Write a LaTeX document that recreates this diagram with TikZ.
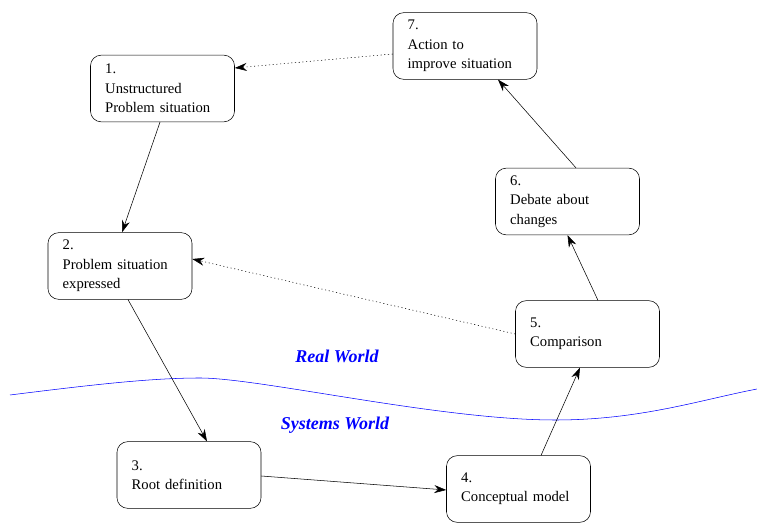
\documentclass[tikz,border=0pt]{standalone}
\usepackage{fontspec}
\setmainfont{Liberation Serif}
\usetikzlibrary{arrows.meta,calc}

\begin{document}
\begin{tikzpicture}[x=0.75pt,y=-0.75pt]
            \tikzstyle{stage}=[draw,rounded corners=8pt,align=left,text width=86pt,inner xsep=11pt,minimum height=50pt,font=\fontsize{11}{14.5}\selectfont];
            \tikzstyle{flow}=[-{Stealth[length=9pt,width=6pt]}];
            \tikzstyle{back}=[flow,dash pattern=on 0.8pt off 2pt];
            \tikzstyle{world}=[text=blue,font=\fontsize{13.5}{15}\selectfont\bfseries\itshape];
            \useasboundingbox (0,0) rectangle (757,523);
            \node[stage] (s1) at (162.5,88.5) {1.\\Unstructured\\Problem situation};
            \node[stage] (s2) at (120,266) {2.\\Problem situation\\expressed};
            \node[stage] (s3) at (189,475) {3.\\Root definition};
            \node[stage] (s4) at (518.5,489) {4.\\Conceptual model};
            \node[stage] (s5) at (587.5,334) {5.\\Comparison};
            \node[stage] (s6) at (567.5,201.5) {6.\\Debate about\\changes};
            \node[stage] (s7) at (465,46) {7.\\Action to\\improve situation};
            \draw[blue] (10,395) .. controls (90,385) and (150,378) .. (200,378)
                .. controls (260,378) and (440,420) .. (555,420)
                .. controls (640,420) and (700,400) .. (757,389);
            \node[world] (real) at (337,356) {Real World};
            \node[world] (sys) at (335,425) {Systems World};
            \draw[flow] ($(s1.south)+(-2.5,0)$) -- ($(s2.north)+(2,0)$);
            \draw[flow] ($(s2.south)+(8,0)$) -- ($(s3.north)+(18,0)$);
            \draw[flow] ($(s3.east)+(0,1)$) -- ($(s4.west)+(0,1)$);
            \draw[flow] ($(s4.north)+(22.5,0)$) -- ($(s5.south)+(-7.5,0)$);
            \draw[flow] ($(s5.north)+(10.5,0)$) -- (s6.south);
            \draw[flow] ($(s6.north)+(8.5,0)$) -- ($(s7.south)+(33,0)$);
            \draw[back] ($(s7.west)+(0,8)$) -- ($(s1.east)+(0,-20.5)$);
            \draw[back] (s5.west) -- ($(s2.east)+(0,-7)$);
\end{tikzpicture}
\end{document}
